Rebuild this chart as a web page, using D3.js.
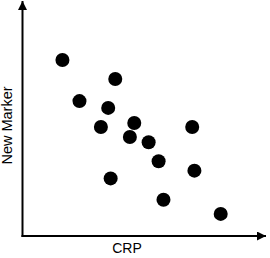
<!DOCTYPE html>
<html>
<head>
<meta charset="utf-8">
<script src="https://cdn.jsdelivr.net/npm/d3@7"></script>
<style>
  body { margin: 0; background: #fff; }
  text { font-family: "Liberation Sans", Arial, sans-serif; }
</style>
</head>
<body>
<svg id="chart"></svg>
<script>
// values (arbitrary units 0-100)
const crp = [16.4, 38.1, 23.4, 35.2, 32.2, 45.9, 44.1, 51.8, 69.7, 55.9, 36.2, 70.6, 57.9, 81.4];
const newMarker = [74.9, 66.8, 57.4, 54.5, 46.4, 48.1, 42.1, 39.9, 46.4, 31.8, 24.5, 27.8, 15.4, 9.4];
const xLabel = "CRP";
const yLabel = "New Marker";

const width = 270;
const height = 258;

const svg = d3.select("#chart")
    .attr("width", width)
    .attr("height", height);

const x = d3.scaleLinear().domain([0, 100]).range([22.5, 266]);
const y = d3.scaleLinear().domain([0, 100]).range([236, 1]);

// arrow heads
const defs = svg.append("defs");
defs.append("marker")
    .attr("id", "arrow")
    .attr("viewBox", "0 0 10 10")
    .attr("refX", 10)
    .attr("refY", 5)
    .attr("markerUnits", "userSpaceOnUse")
    .attr("markerWidth", 10)
    .attr("markerHeight", 9)
    .attr("orient", "auto")
    .append("path")
    .attr("d", "M0,0L10,5L0,10Z")
    .attr("fill", "#000");

// x axis
svg.append("line")
    .attr("x1", x(0) - 1).attr("y1", y(0))
    .attr("x2", x(100)).attr("y2", y(0))
    .attr("stroke", "#000").attr("stroke-width", 2)
    .attr("marker-end", "url(#arrow)");

// y axis
svg.append("line")
    .attr("x1", x(0)).attr("y1", y(0) + 1)
    .attr("x2", x(0)).attr("y2", y(100))
    .attr("stroke", "#000").attr("stroke-width", 2)
    .attr("marker-end", "url(#arrow)");

const points = crp.map((d, i) => ({x: d, y: newMarker[i]}));

svg.append("g")
    .selectAll("circle")
    .data(points)
    .join("circle")
    .attr("cx", d => x(d.x))
    .attr("cy", d => y(d.y))
    .attr("r", 7)
    .attr("fill", "#000");

svg.append("text")
    .attr("x", 127)
    .attr("y", 253)
    .attr("text-anchor", "middle")
    .attr("font-size", 14)
    .text(xLabel);

svg.append("text")
    .attr("transform", "translate(12,125.5) rotate(-90)")
    .attr("text-anchor", "middle")
    .attr("font-size", 14.5)
    .text(yLabel);
</script>
</body>
</html>
